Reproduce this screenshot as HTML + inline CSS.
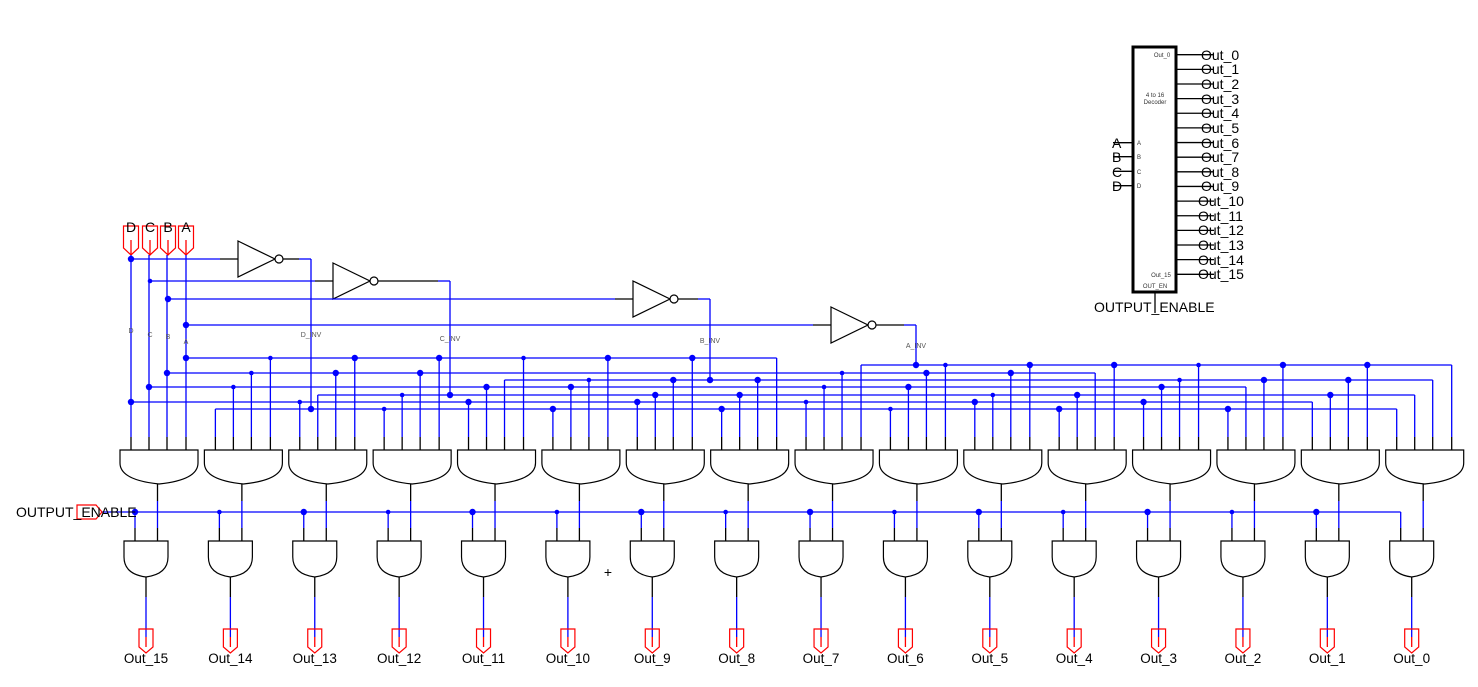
<!DOCTYPE html>
<html><head><meta charset="utf-8"><style>
html,body{margin:0;padding:0;background:#fff;}
svg{display:block;}
text{font-family:"Liberation Sans",sans-serif;}
</style></head><body>
<svg id="s" xmlns="http://www.w3.org/2000/svg" width="1478" height="687" viewBox="0 0 1478 687">
<g id="g"></g>
<g font-size="14" fill="#000" text-anchor="middle">
<text x="131" y="232">D</text><text x="150" y="232">C</text><text x="168" y="232">B</text><text x="186" y="232">A</text>
</g>
<g font-size="7" fill="#555" text-anchor="middle">
<text x="131" y="333">D</text><text x="150" y="337">C</text><text x="168" y="339">B</text><text x="186" y="344">A</text>
<text x="311" y="337">D_INV</text><text x="450" y="341">C_INV</text><text x="710" y="343">B_INV</text><text x="916" y="348">A_INV</text>
</g>
<text x="16" y="517" font-size="14">OUTPUT_ENABLE</text>
<text x="608" y="577" font-size="14" text-anchor="middle">+</text>
<g font-size="13.5" text-anchor="middle">
<text x="146" y="663">Out_15</text><text x="230.4" y="663">Out_14</text><text x="314.8" y="663">Out_13</text><text x="399.1" y="663">Out_12</text>
<text x="483.5" y="663">Out_11</text><text x="567.9" y="663">Out_10</text><text x="652.3" y="663">Out_9</text><text x="736.7" y="663">Out_8</text>
<text x="821" y="663">Out_7</text><text x="905.4" y="663">Out_6</text><text x="989.8" y="663">Out_5</text><text x="1074.2" y="663">Out_4</text>
<text x="1158.6" y="663">Out_3</text><text x="1242.9" y="663">Out_2</text><text x="1327.3" y="663">Out_1</text><text x="1411.7" y="663">Out_0</text>
</g>
<rect x="1133" y="47" width="43" height="245" fill="none" stroke="#000" stroke-width="3"/>
<g font-size="6" fill="#333" text-anchor="middle">
<text x="1162" y="57">Out_0</text>
<text x="1155" y="97">4 to 16</text><text x="1155" y="104">Decoder</text>
<text x="1139" y="145">A</text><text x="1139" y="159">B</text><text x="1139" y="174">C</text><text x="1139" y="188">D</text>
<text x="1161" y="277">Out_15</text><text x="1155" y="288">OUT_EN</text>
</g>
<g font-size="14" fill="#000">
<text x="1112" y="148">A</text><text x="1112" y="162">B</text><text x="1112" y="177">C</text><text x="1112" y="191">D</text>
<text x="1201" y="60">Out_0</text><text x="1201" y="74">Out_1</text><text x="1201" y="89">Out_2</text><text x="1201" y="104">Out_3</text>
<text x="1201" y="118">Out_4</text><text x="1201" y="133">Out_5</text><text x="1201" y="148">Out_6</text><text x="1201" y="162">Out_7</text>
<text x="1201" y="177">Out_8</text><text x="1201" y="191">Out_9</text><text x="1198" y="206">Out_10</text><text x="1198" y="221">Out_11</text>
<text x="1198" y="235">Out_12</text><text x="1198" y="250">Out_13</text><text x="1198" y="265">Out_14</text><text x="1198" y="279">Out_15</text>
<text x="1094" y="312">OUTPUT_ENABLE</text>
</g>
</svg>
<script>
(function(){
var g=document.getElementById('g'),h='';
function L(x1,y1,x2,y2,c){h+='<line x1="'+x1+'" y1="'+y1+'" x2="'+x2+'" y2="'+y2+'" stroke="'+(c||'#00f')+'" stroke-width="1.3"/>';}
function D(x,y,r){h+='<circle cx="'+x+'" cy="'+y+'" r="'+(r||3.2)+'" fill="#00f"/>';}
var P=84.38,X0=120;
var rows={A:358,Ai:365,B:373,Bi:380,C:387,Ci:395,D:402,Di:409};
var off={D:11,C:29,B:47,A:66};
var cols={};for(var r in rows)cols[r]=[];
[['D',131],['C',150],['B',168],['A',186]].forEach(function(p){var x=p[1];
h+='<path d="M'+(x-7.5)+',226 H'+(x+7.5)+' V248 L'+x+',255 L'+(x-7.5)+',248 Z" fill="none" stroke="#f00" stroke-width="1.2"/>';
L(x,240,x,255,'#f00');});
var inv=[[131,259,238,311,'Di'],[150,281,333,450,'Ci'],[168,299,633,710,'Bi'],[186,325,831,916,'Ai']];
inv.forEach(function(v){var sx=v[0],y=v[1],ix=v[2],ox=v[3];
L(sx,y,ix-18,y);L(ix-18,y,ix,y,'#000');
h+='<path d="M'+ix+','+(y-18)+' L'+(ix+37)+','+y+' L'+ix+','+(y+18)+' Z" fill="none" stroke="#000" stroke-width="1.2"/>';
h+='<circle cx="'+(ix+41)+'" cy="'+y+'" r="4" fill="#fff" stroke="#000" stroke-width="1.2"/>';
L(ix+45,y,ox-12,y,'#000');L(ox-12,y,ox,y);L(ox,y,ox,rows[v[4]]);D(ox,rows[v[4]]);
D(sx,y,sx==150?2.3:3.2);});
for(var i=0;i<16;i++){var k=15-i,Lx=X0+P*i;
 var sig={D:(k&1)?'D':'Di',C:(k&2)?'C':'Ci',B:(k&4)?'B':'Bi',A:(k&8)?'A':'Ai'};
 for(var s in off){var x=Lx+off[s],ry=rows[sig[s]];cols[sig[s]].push(x);
  L(x,i==0?255:ry,x,437);L(x,437,x,450,'#000');}
 h+='<path d="M'+Lx+',450 H'+(Lx+78)+' V463 Q'+(Lx+78)+',480 '+(Lx+39)+',484 Q'+Lx+',480 '+Lx+',463 Z" fill="none" stroke="#000" stroke-width="1.2"/>';
 var sx=Lx+37.5,sl=Lx+4;
 L(sx,484,sx,501,'#000');L(sx,501,sx,528);L(sx,528,sx,541,'#000');
 var ox=sl+11;
 if(i<15){L(ox,512,ox,528);D(ox,512,(i%2==0)?3.2:2.3);}else{L(ox,512,ox,528);}
 L(ox,528,ox,541,'#000');
 h+='<path d="M'+sl+',541 H'+(sl+44)+' V557 Q'+(sl+44)+',574 '+(sl+22)+',577 Q'+sl+',574 '+sl+',557 Z" fill="none" stroke="#000" stroke-width="1.2"/>';
 var cx=sl+22;L(cx,577,cx,597,'#000');L(cx,597,cx,637);
 h+='<path d="M'+(cx-7)+',629 H'+(cx+7)+' V647 L'+cx+',653 L'+(cx-7)+',647 Z" fill="none" stroke="#f00" stroke-width="1.2"/>';
 L(cx,637,cx,647,'#f00');
}
for(var r in rows){var a=cols[r],mn=Math.min.apply(null,a),mx=Math.max.apply(null,a),y=rows[r];
 L(mn,y,mx,y);a.forEach(function(x,j){if(x==mx)return;if(x==mn&&r.length==2)return;D(x,y,(j%3==1)?2.3:3.2);});}
L(102,512,1400.7,512);
h+='<path d="M77,505 H96 L102,512 L96,519 H77 Z" fill="none" stroke="#f00" stroke-width="1.2"/>';
for(var j=0;j<16;j++){var y=54.7+14.64*j;L(1177,y,1214,y,'#000');}
[142.7,156.7,171.3,185.7].forEach(function(y){L(1113,y,1132,y,'#000');});
L(1155,293,1155,313,'#000');
g.innerHTML=h;
})();
</script>
</body></html>
